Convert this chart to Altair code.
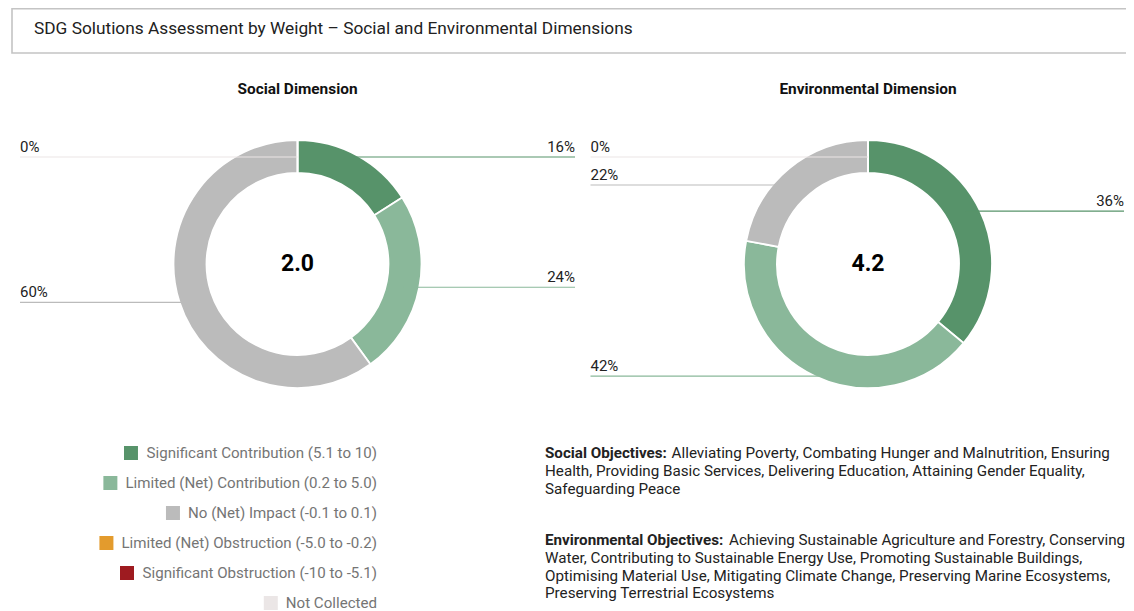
import math
import altair as alt
import pandas as pd

# ---------------- data ----------------
title = "SDG Solutions Assessment by Weight \u2013 Social and Environmental Dimensions"
dimensions = ["Social Dimension", "Environmental Dimension"]
scores = ["2.0", "4.2"]
categories = [
    "Significant Contribution (5.1 to 10)",
    "Limited (Net) Contribution (0.2 to 5.0)",
    "No (Net) Impact (-0.1 to 0.1)",
    "Limited (Net) Obstruction (-5.0 to -0.2)",
    "Significant Obstruction (-10 to -5.1)",
    "Not Collected",
]
colors = ["#57936a", "#8ab89a", "#bbbbbb", "#e39b2d", "#9e1b20", "#ebe6e6"]
social_pct = [16, 24, 60, None, None, 0]
environmental_pct = [36, 42, 22, None, None, 0]

social_prefix = "Social Objectives:"
social_lines = [
    "Alleviating Poverty, Combating Hunger and Malnutrition, Ensuring",
    "Health, Providing Basic Services, Delivering Education, Attaining Gender Equality,",
    "Safeguarding Peace",
]
env_prefix = "Environmental Objectives:"
env_lines = [
    "Achieving Sustainable Agriculture and Forestry, Conserving",
    "Water, Contributing to Sustainable Energy Use, Promoting Sustainable Buildings,",
    "Optimising Material Use, Mitigating Climate Change, Preserving Marine Ecosystems,",
    "Preserving Terrestrial Ecosystems",
]

# ---------------- layout ----------------
W, H = 1118, 603
FONT = "Roboto"
R_OUT, R_IN = 124, 91
R_MID = (R_OUT + R_IN) / 2
CENTERS = [(289.5, 256.0), (860.0, 256.0)]
LABEL_HALF = 277.5
MIN_LINE_Y = 149
LABEL_GAP = 28
LABEL_FS = 15
LEG_RIGHT, LEG_TOP, LEG_STEP, LEG_FS = 369, 445, 30, 15.1
OBJ_X, OBJ_FS, OBJ_LH = 537, 15.2, 17.8
OBJ_TOPS = [445, 532]
BOLD_K = 1.03

ADV = {' ': .248, '(': .342, ')': .348, '-': .276, '.': .263, ',': .196, '%': .732, ':': .242,
       'a': .544, 'b': .561, 'c': .523, 'd': .564, 'e': .530, 'f': .347, 'g': .561, 'h': .551,
       'i': .243, 'j': .239, 'k': .507, 'l': .243, 'm': .876, 'n': .552, 'o': .570, 'p': .561,
       'q': .568, 'r': .338, 's': .516, 't': .327, 'u': .551, 'v': .484, 'w': .751, 'x': .496,
       'y': .473, 'z': .496, 'A': .652, 'B': .622, 'C': .652, 'D': .656, 'E': .568, 'F': .553,
       'G': .681, 'H': .713, 'I': .272, 'L': .538, 'M': .873, 'N': .713, 'O': .688, 'P': .631,
       'R': .616, 'S': .593, 'T': .597, 'W': .887}
for dgt in "0123456789":
    ADV[dgt] = .561


def text_width(s, size, bold=False):
    return sum(ADV.get(ch, .55) for ch in s) * size * (BOLD_K if bold else 1.0)


xs = alt.Scale(domain=[0, W], range=[0, W], nice=False, zero=False)
ys = alt.Scale(domain=[0, H], range=[0, H], nice=False, zero=False)
cscale = alt.Scale(domain=categories, range=colors)

# ---------------- tables ----------------
donut_rows, label_rows = [], []
for k, (dim, pcts) in enumerate(zip(dimensions, [social_pct, environmental_pct])):
    cx, cy = CENTERS[k]
    cum = 0.0
    items = []
    for i, (cat, p) in enumerate(zip(categories, pcts)):
        if p is None:
            continue
        donut_rows.append(dict(dimension=dim, category=cat, order=i, pct=p))
        mid = (cum + p / 2) / 100 * 2 * math.pi
        cum += p
        side = "L" if mid > math.pi else "R"
        items.append(dict(dimension=dim, category=cat, label=f"{p}%", side=side,
                          want=cy - R_OUT * math.cos(mid), ax=cx + R_MID * math.sin(mid)))
    for side in "LR":
        grp = sorted([t for t in items if t["side"] == side], key=lambda t: t["want"])
        prev = -1e9
        for t in grp:
            y = max(t["want"], MIN_LINE_Y, prev + LABEL_GAP)
            prev = y
            t["ly"] = y
            t["ty"] = y - 5
            t["lx"] = cx - LABEL_HALF if side == "L" else min(cx + LABEL_HALF, W - 2)
    label_rows += items

donut_df = pd.DataFrame(donut_rows)
label_df = pd.DataFrame(label_rows)

legend_df = pd.DataFrame({
    "category": categories,
    "y": [LEG_TOP + LEG_STEP * i for i in range(len(categories))],
    "tx": [LEG_RIGHT] * len(categories),
    "sx": [LEG_RIGHT - text_width(c, LEG_FS) - 8 - 7 for c in categories],
})

obj_rows, prefix_rows = [], []
for top, prefix, lines in zip(OBJ_TOPS, [social_prefix, env_prefix], [social_lines, env_lines]):
    prefix_rows.append(dict(text=prefix, x=OBJ_X, y=top))
    for j, ln in enumerate(lines):
        x = OBJ_X + (text_width(prefix, OBJ_FS, bold=True) + ADV[' '] * OBJ_FS if j == 0 else 0)
        obj_rows.append(dict(text=ln, x=x, y=top + j * OBJ_LH))
obj_df = pd.DataFrame(obj_rows)
prefix_df = pd.DataFrame(prefix_rows)

head_df = pd.DataFrame({"dimension": dimensions, "score": scores,
                        "x": [c[0] for c in CENTERS], "y": [c[1] for c in CENTERS]})

X = lambda f: alt.X(f, scale=xs, axis=None)
Y = lambda f: alt.Y(f, scale=ys, axis=None)

# ---------------- layers ----------------
box = alt.Chart(pd.DataFrame({"t": [title]})).mark_rect(
    fill="white", stroke="#c4c4c4", strokeWidth=1.6
).encode(x=alt.value(4), x2=alt.value(W + 30), y=alt.value(0.8), y2=alt.value(45))

title_txt = alt.Chart(pd.DataFrame({"t": [title]})).mark_text(
    align="left", baseline="middle", font=FONT, fontSize=17.3, color="#212121"
).encode(x=alt.value(26), y=alt.value(21), text="t:N")

dim_titles = alt.Chart(head_df).mark_text(
    align="center", baseline="middle", font=FONT, fontSize=15.4, fontWeight="bold", color="#111"
).encode(x=X("x:Q"), y=alt.value(81), text="dimension:N")

donuts = []
for k, dim in enumerate(dimensions):
    cx, cy = CENTERS[k]
    donuts.append(
        alt.Chart(donut_df).transform_filter(alt.datum.dimension == dim).mark_arc(
            innerRadius=R_IN, outerRadius=R_OUT, stroke="white", strokeWidth=1.8
        ).encode(
            theta=alt.Theta("pct:Q", stack=True, scale=alt.Scale(domain=[0, 100], range=[0, 2 * math.pi])),
            order=alt.Order("order:Q"),
            color=alt.Color("category:N", scale=cscale, legend=None),
            x=alt.value(cx), y=alt.value(cy),
        )
    )

lines = alt.Chart(label_df).mark_rule(strokeWidth=1.2).encode(
    x=X("lx:Q"), x2="ax:Q", y=Y("ly:Q"),
    color=alt.Color("category:N", scale=cscale, legend=None),
)
lab_left = alt.Chart(label_df).transform_filter(alt.datum.side == "L").mark_text(
    align="left", baseline="alphabetic", font=FONT, fontSize=LABEL_FS, color="#222"
).encode(x=X("lx:Q"), y=Y("ty:Q"), text="label:N")
lab_right = alt.Chart(label_df).transform_filter(alt.datum.side == "R").mark_text(
    align="right", baseline="alphabetic", font=FONT, fontSize=LABEL_FS, color="#222"
).encode(x=X("lx:Q"), y=Y("ty:Q"), text="label:N")

center_vals = alt.Chart(head_df).mark_text(
    align="center", baseline="middle", font=FONT, fontSize=23, fontWeight="bold", color="#000"
).encode(x=X("x:Q"), y=Y("y:Q"), text="score:N")

leg_sw = alt.Chart(legend_df).mark_square(size=196, opacity=1).encode(
    x=X("sx:Q"), y=Y("y:Q"), color=alt.Color("category:N", scale=cscale, legend=None)
)
leg_tx = alt.Chart(legend_df).mark_text(
    align="right", baseline="middle", font=FONT, fontSize=LEG_FS, color="#757575"
).encode(x=X("tx:Q"), y=Y("y:Q"), text="category:N")

obj_pref = alt.Chart(prefix_df).mark_text(
    align="left", baseline="middle", font=FONT, fontSize=OBJ_FS, fontWeight="bold", color="#222"
).encode(x=X("x:Q"), y=Y("y:Q"), text="text:N")
obj_txt = alt.Chart(obj_df).mark_text(
    align="left", baseline="middle", font=FONT, fontSize=OBJ_FS, color="#222"
).encode(x=X("x:Q"), y=Y("y:Q"), text="text:N")

chart = alt.layer(
    box, title_txt, dim_titles, *donuts, lines, lab_left, lab_right, center_vals,
    leg_sw, leg_tx, obj_pref, obj_txt
).properties(
    width=W, height=H, padding=0, autosize=alt.AutoSizeParams(type="none")
).configure_view(stroke=None).resolve_scale(theta="shared")

chart.save("out.html", embed_options={"renderer": "svg", "actions": False})
